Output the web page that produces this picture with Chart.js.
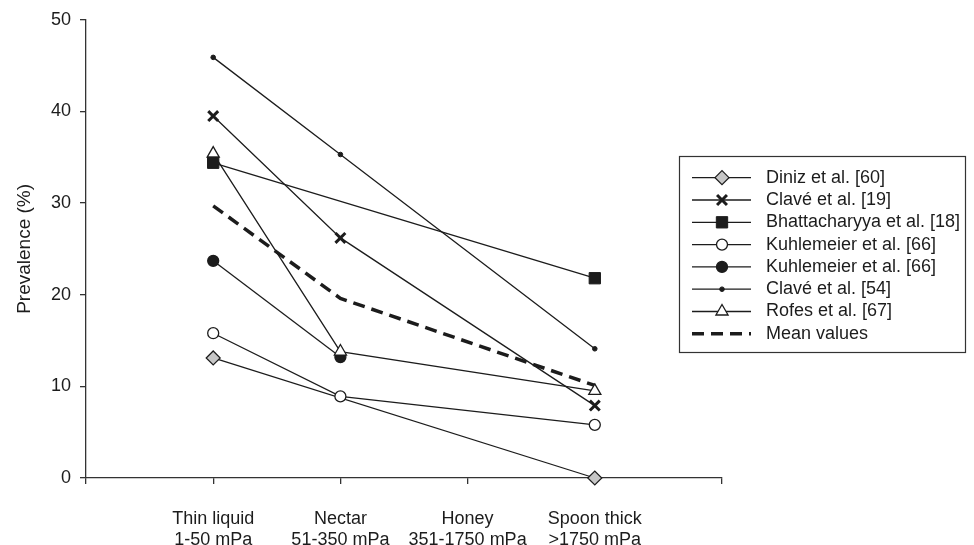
<!DOCTYPE html>
<html>
<head>
<meta charset="utf-8">
<script src="https://cdn.jsdelivr.net/npm/chart.js@4/dist/chart.umd.min.js"></script>
<style>
  html, body { margin: 0; padding: 0; background: #fff; }
  #wrap { width: 974px; height: 545px; position: relative; }
</style>
</head>
<body>
<div id="wrap"><canvas id="chart1"></canvas></div>
<script>
var categories = ['Thin liquid', 'Nectar', 'Honey', 'Spoon thick'];
var viscosity = ['1-50 mPa', '51-350 mPa', '351-1750 mPa', '>1750 mPa'];
var yTicks = [0, 10, 20, 30, 40, 50];

var diniz60 = [13.1, null, null, 0];
var clave19 = [39.5, 26.2, null, 7.9];
var bhatt18 = [34.4, null, null, 21.8];
var kuhle66open = [15.8, 8.9, null, 5.8];
var kuhle66fill = [23.7, 13.2, null, null];
var clave54 = [45.9, 35.3, null, 14.1];
var rofes67 = [35.4, 13.8, null, 9.5];
var meanValues = [29.7, 19.6, null, 10.1];

var ink = '#1c1c1c';
var font = '"Liberation Sans", Arial, sans-serif';

// blank slot at each end so the axis runs one step past the first and last category
function pad(arr) {
    return [null].concat(arr, [null]);
}
var xLabels = [''].concat(categories.map(function (c, i) { return [c, viscosity[i]]; }), ['']);

function series(label, data, style, radius, fill, bw, order, extra) {
    var ds = {
        label: label,
        data: pad(data),
        order: order,
        clip: false,
        borderColor: ink,
        borderWidth: 1.3,
        pointStyle: style,
        pointRadius: radius,
        pointBackgroundColor: fill,
        pointBorderColor: ink,
        pointBorderWidth: bw,
        spanGaps: true,
        tension: 0
    };
    for (var k in extra) ds[k] = extra[k];
    return ds;
}

var boxLegend = {
    id: 'boxLegend',
    afterDraw: function (chart) {
        var ctx = chart.ctx;
        ctx.save();
        ctx.strokeStyle = '#333';
        ctx.lineWidth = 1.2;
        ctx.strokeRect(679.5, 156.5, 286, 196);
        chart.data.datasets.forEach(function (ds, i) {
            var y = 177.7 + i * 22.3;
            ctx.beginPath();
            ctx.lineWidth = ds.borderWidth;
            ctx.strokeStyle = ds.borderColor;
            ctx.setLineDash(ds.borderDash || []);
            ctx.moveTo(692, y);
            ctx.lineTo(751, y);
            ctx.stroke();
            ctx.setLineDash([]);
            if (ds.pointRadius > 0) {
                ctx.fillStyle = ds.pointBackgroundColor;
                ctx.strokeStyle = ds.pointBorderColor;
                ctx.lineWidth = ds.pointBorderWidth;
                Chart.helpers.drawPoint(ctx, {
                    pointStyle: ds.pointStyle, rotation: 0,
                    radius: ds.pointRadius, borderWidth: ds.pointBorderWidth
                }, 722, y);
            }
            ctx.fillStyle = ink;
            ctx.font = '18px ' + font;
            ctx.textBaseline = 'middle';
            ctx.textAlign = 'left';
            ctx.fillText(ds.label, 766, y);
        });
        ctx.restore();
    }
};

var chart1 = new Chart(document.getElementById('chart1'), {
    type: 'line',
    data: {
        labels: xLabels,
        datasets: [
            series('Diniz et al. [60]', diniz60, 'rectRot', 7, '#c6c6c6', 1.2, 7),
            series('Clavé et al. [19]', clave19, 'crossRot', 7, ink, 3, 5),
            series('Bhattacharyya et al. [18]', bhatt18, 'rect', 8, ink, 1, 1),
            series('Kuhlemeier et al. [66]', kuhle66open, 'circle', 5.5, '#fff', 1.3, 3),
            series('Kuhlemeier et al. [66]', kuhle66fill, 'circle', 5.5, ink, 1.3, 4),
            series('Clavé et al. [54]', clave54, 'circle', 2.3, ink, 1, 5),
            series('Rofes et al. [67]', rofes67, 'triangle', 7, '#fff', 1.3, 2),
            series('Mean values', meanValues, 'circle', 0, ink, 0, 6, {
                borderWidth: 3.5, borderDash: [12, 7]
            })
        ]
    },
    options: {
        responsive: true,
        maintainAspectRatio: false,
        animation: false,
        layout: { padding: { top: 19, right: 252, bottom: 0, left: 0 } },
        plugins: {
            legend: { display: false },
            tooltip: { enabled: false }
        },
        scales: {
            x: {
                type: 'category',
                offset: false,
                grid: { drawOnChartArea: false, drawTicks: true, tickLength: 6, color: '#333', lineWidth: 1.3 },
                border: { display: true, color: '#333', width: 1.3 },
                ticks: { autoSkip: false, maxRotation: 0, padding: 24, color: ink, font: { family: font, size: 18 } },
                afterFit: function (scale) { scale.height = 67; }
            },
            y: {
                min: 0,
                max: 50,
                afterBuildTicks: function (scale) {
                    scale.ticks = yTicks.map(function (v) { return { value: v }; });
                },
                grid: { drawOnChartArea: false, drawTicks: true, tickLength: 6, color: '#333', lineWidth: 1.3 },
                border: { display: true, color: '#333', width: 1.3 },
                ticks: { padding: 9, color: ink, font: { family: font, size: 18 } },
                title: {
                    display: true,
                    text: 'Prevalence (%)',
                    color: ink,
                    font: { family: font, size: 19 },
                    padding: { top: 13, bottom: 0 }
                },
                afterFit: function (scale) { scale.width = 86; }
            }
        }
    },
    plugins: [boxLegend]
});
</script>
</body>
</html>
